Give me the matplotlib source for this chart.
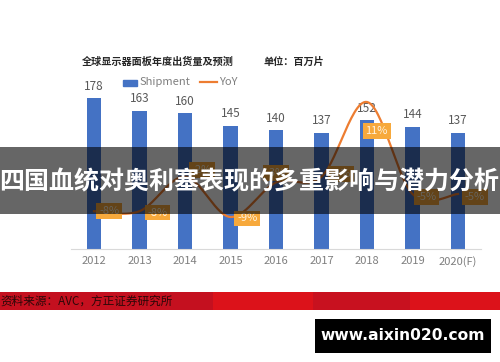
import matplotlib
matplotlib.use('Agg')
import matplotlib.pyplot as plt
import numpy as np
from matplotlib.patches import Rectangle

years = ['2012', '2013', '2014', '2015', '2016', '2017', '2018', '2019', '2020(F)']
shipment = [178, 163, 160, 145, 140, 137, 152, 144, 137]
yoy = [-8, -8, -2, -9, -3, -2, 11, -5, -5]
yoy_labels = ['-8%', '-8%', '-2%', '-9%', '-3%', '-2%', '11%', '-5%', '-5%']

title_text = '全球显示器面板年度出货量及预测'
unit_text = '单位：百万片'
banner_text = '四国血统对奥利塞表现的多重影响与潜力分析'
source_text = '资料来源：AVC，方正证券研究所'
site_text = 'www.aixin020.com'

plt.rcParams['font.family'] = ['Noto Sans CJK SC', 'DejaVu Sans']

W, H = 500, 362
fig = plt.figure(figsize=(5, 3.62), dpi=100)
fig.patch.set_facecolor('white')


def rect(l, t, r, b):
    return [l / W, 1 - b / H, (r - l) / W, (b - t) / H]


def fx(x):
    return x / W


def fy(y):
    return 1 - y / H


ax = fig.add_axes(rect(71.25, 79.4, 480.75, 249))
x = np.arange(len(years))
ax.bar(x, shipment, width=0.31, color='#4472C4', zorder=2)
ax.set_xlim(-0.5, len(years) - 0.5)
ax.set_ylim(0, 200)
for s in ['top', 'right', 'left']:
    ax.spines[s].set_visible(False)
ax.spines['bottom'].set_color('#d9d9d9')
ax.set_yticks([])
ax.set_xticks(x)
ax.set_xticklabels(years, color='#7f7f7f', fontsize=8)
ax.tick_params(axis='x', length=0, pad=5)
for xi, v in zip(x, shipment):
    ax.annotate(str(v), (xi, v), xytext=(0, 4), textcoords='offset points',
                ha='center', va='bottom', fontsize=8.5, color='#595959')

ax2 = ax.twinx()
ax2.set_ylim(-14.57, 14.93)
ax2.axis('off')

# smooth line (Catmull-Rom style Bezier in pixel-scaled space)
px = x * 45.5
py = np.array(yoy, dtype=float) * 5.75
P = np.column_stack([px, py])
Pext = np.vstack([P[0], P, P[-1]])
curve = []
t = np.linspace(0, 1, 30)
for i in range(len(P) - 1):
    p0, p1, p2, p3 = Pext[i], Pext[i + 1], Pext[i + 2], Pext[i + 3]
    c1 = p1 + (p2 - p0) / 6
    c2 = p2 - (p3 - p1) / 6
    seg = ((1 - t) ** 3)[:, None] * p1 + (3 * (1 - t) ** 2 * t)[:, None] * c1 + \
          (3 * (1 - t) * t ** 2)[:, None] * c2 + (t ** 3)[:, None] * p2
    curve.append(seg)
curve = np.vstack(curve)
ax2.plot(curve[:, 0] / 45.5, curve[:, 1] / 5.75, color='#ED7D31', lw=1.6, zorder=3)

offsets = [(11, 0), (13, -1), (12, 5), (12, -1), (0, 7), (14, 2), (7, -21), (10, -2), (12, -2)]
for xi, v, lab, off in zip(x, yoy, yoy_labels, offsets):
    ax2.annotate(lab, (xi, v), xytext=off, textcoords='offset points',
                 ha='center', va='center', fontsize=8, color='#fff3e0',
                 bbox=dict(boxstyle='square,pad=0.25', fc='#F7A93C', ec='none'),
                 zorder=4)

# title and legend
fig.text(fx(82), fy(62), title_text, fontsize=7.3, fontweight='bold', color='#262626',
         ha='left', va='center')
fig.text(fx(263), fy(62), unit_text, fontsize=7.3, fontweight='bold', color='#262626',
         ha='left', va='center')
fig.patches.append(Rectangle((fx(123), fy(86)), 14 / W, 6 / H, transform=fig.transFigure,
                             color='#4472C4', figure=fig))
fig.text(fx(140), fy(82), 'Shipment', fontsize=8, color='#7f7f7f', ha='left', va='center')
fig.lines.append(plt.Line2D([fx(200), fx(217)], [fy(82), fy(82)], transform=fig.transFigure,
                            color='#ED7D31', lw=1.6, figure=fig))
fig.text(fx(219), fy(82), 'YoY', fontsize=8, color='#7f7f7f', ha='left', va='center')

# banner overlay
fig.patches.append(Rectangle((0, fy(214)), 1, 67 / H, transform=fig.transFigure,
                             facecolor='black', alpha=0.6, edgecolor='none', zorder=10, figure=fig))
fig.text(0.499, fy(182), banner_text, fontsize=18.0, fontweight='bold', color='white',
         ha='center', va='center', zorder=11)

# source red band
band = [(0, 213, '#c4101f'), (213, 313, '#dc121a'), (313, 410, '#c8111f'), (410, 500, '#dc121a')]
for l, r, c in band:
    fig.patches.append(Rectangle((fx(l), fy(310)), (r - l) / W, 18 / H, transform=fig.transFigure,
                                 facecolor=c, edgecolor='none', zorder=5, figure=fig))
fig.text(fx(0), fy(301), source_text, fontsize=8.4, color='#2b0808', ha='left', va='center',
         zorder=6)

# black site box
fig.patches.append(Rectangle((fx(315), fy(353)), 176 / W, 34 / H, transform=fig.transFigure,
                             facecolor='black', edgecolor='none', zorder=5, figure=fig))
fig.text(fx(403), fy(336), site_text, fontsize=11.2, fontweight='bold', color='white',
         ha='center', va='center', family=['DejaVu Sans'], zorder=6)

fig.savefig('out.png', dpi=100)
